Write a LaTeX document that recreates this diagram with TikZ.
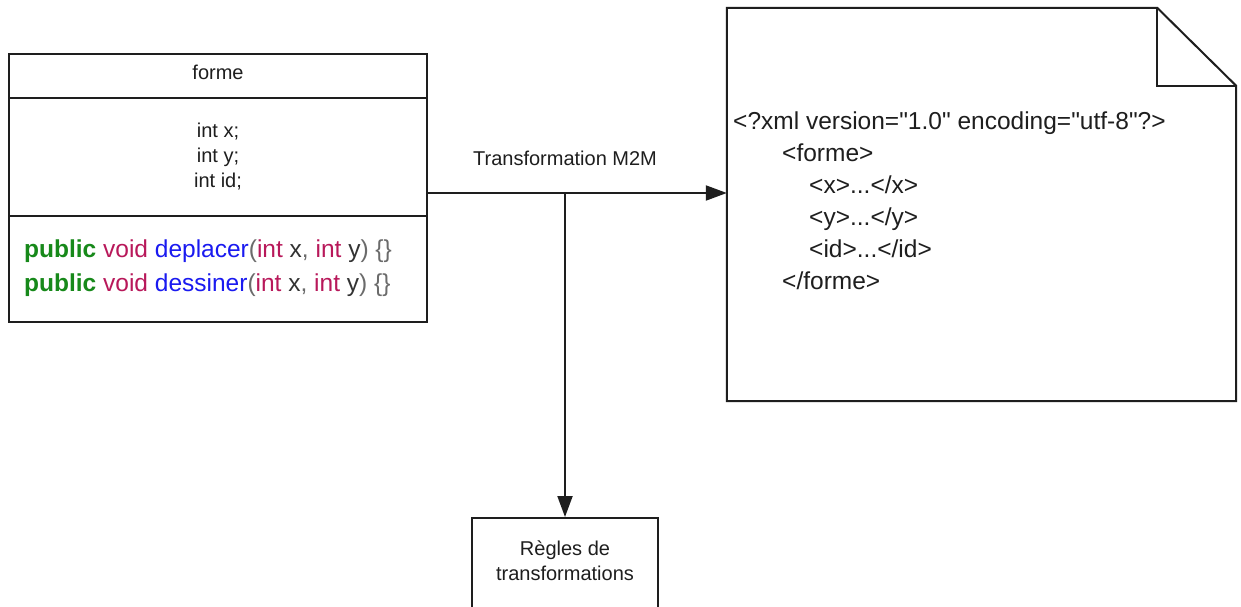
\documentclass[tikz,border=0pt]{standalone}
\usepackage{fontspec}
\setmainfont{Liberation Sans}[Ligatures=TeXOff]
\usetikzlibrary{arrows.meta}

\definecolor{ink}{HTML}{1E1E1E}
\definecolor{kwgreen}{HTML}{17891A}
\definecolor{kwred}{HTML}{B8185A}
\definecolor{kwblue}{HTML}{1A1AF0}
\definecolor{punct}{HTML}{6B6B6B}
\definecolor{argc}{HTML}{333333}

\newcommand{\kwpub}{{\bfseries\color{kwgreen}public}}
\newcommand{\kwvoid}{{\color{kwred}void}}
\newcommand{\kwint}{{\color{kwred}int}}
\newcommand{\pc}[1]{{\color{punct}#1}}
\newcommand{\signature}[1]{\kwpub{} \kwvoid{} {\color{kwblue}#1}\pc{(}\kwint{} {\color{argc}x}\pc{,} \kwint{} {\color{argc}y}\pc{)} \pc{\{\}}}

\tikzset{
  outline/.style={draw=ink, line width=2pt},
  part/.style={outline, rectangle, minimum width=418pt, inner sep=0pt},
  txt/.style={text=ink, inner sep=0pt, font=\fontsize{20}{25}\selectfont},
  codetxt/.style={text=ink, inner sep=0pt, font=\fontsize{24.5}{32}\selectfont},
  flow/.style={draw=ink, line width=2pt, -{Triangle[length=21pt,width=15pt]}},
}

\begin{document}
\begin{tikzpicture}[x=1pt,y=-1pt]
  \clip (0,0) rectangle (1241,607);
  \fill[white] (0,0) rectangle (1241,607);

  % class "forme": title, attributes and methods compartments
  \node[part, minimum height=44pt]  (cls-title) at (218,76)  {};
  \node[part, minimum height=118pt] (cls-attr)  at (218,157) {};
  \node[part, minimum height=106pt] (cls-meth)  at (218,269) {};

  \node[txt, anchor=base] (lbl-title) at (218,80) {forme};
  \node[txt, anchor=base] (attr-x)  at (218,137) {int x;};
  \node[txt, anchor=base] (attr-y)  at (218,162) {int y;};
  \node[txt, anchor=base] (attr-id) at (218,187) {int id;};

  \node[codetxt, anchor=base west] (meth-1) at (24,257) {\signature{deplacer}};
  \node[codetxt, anchor=base west] (meth-2) at (24,291) {\signature{dessiner}};

  % XML document with folded corner
  \node[rectangle, minimum width=509pt, minimum height=393pt, inner sep=0pt] (doc) at (981.5,204.5) {};
  \draw[outline, line join=miter]
    (doc.north west) -- ([xshift=-79pt]doc.north east)
    -- ([yshift=-78pt]doc.north east) -- (doc.south east)
    -- (doc.south west) -- cycle;
  \draw[outline, line join=miter]
    ([xshift=-79pt]doc.north east) -- ([xshift=-79pt,yshift=-78pt]doc.north east)
    -- ([yshift=-78pt]doc.north east);

  \node[codetxt, anchor=base west] (xml-1) at (733,129) {<?xml version="1.0" encoding="utf-8"?>};
  \node[codetxt, anchor=base west] (xml-2) at (782,161) {<forme>};
  \node[codetxt, anchor=base west] (xml-3) at (809,193) {<x>...</x>};
  \node[codetxt, anchor=base west] (xml-4) at (809,225) {<y>...</y>};
  \node[codetxt, anchor=base west] (xml-5) at (809,257) {<id>...</id>};
  \node[codetxt, anchor=base west] (xml-6) at (782,289) {</forme>};

  % transformation rules box (runs past the lower edge)
  \node[outline, rectangle, minimum width=186pt, minimum height=110pt, inner sep=0pt, anchor=north] (rules) at (565,517) {};
  \node[txt, anchor=base] (rules-1) at (565,555) {Règles de};
  \node[txt, anchor=base] (rules-2) at (565,580) {transformations};

  % connectors
  \coordinate (junction) at (565,193);
  \draw[flow] (cls-attr.east |- junction) -- (junction -| doc.west);
  \draw[flow] (junction) -- (rules.north);
  \node[txt, anchor=base] (m2m) at (565,165) {Transformation M2M};
\end{tikzpicture}
\end{document}
